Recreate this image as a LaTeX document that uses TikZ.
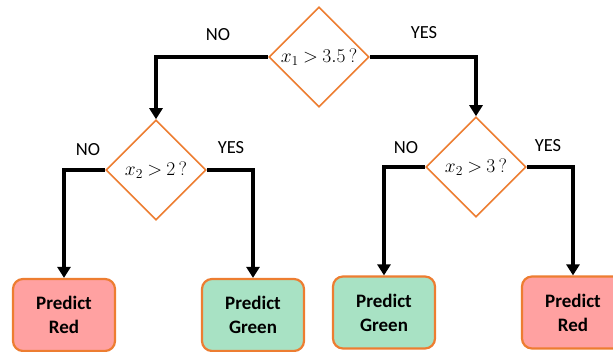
\RequirePackage{fix-cm}
\documentclass[tikz,border=0pt]{standalone}
\usepackage{fontspec}
\setmainfont{Carlito}
\usetikzlibrary{shapes.geometric,arrows.meta}
\definecolor{edgeorange}{HTML}{ED7D31}
\definecolor{leafred}{HTML}{FFA1A1}
\definecolor{leafgreen}{HTML}{A8E2C4}
\thickmuskip=4mu plus 2mu
\tikzset{
  test/.style={diamond, draw=edgeorange, line width=1.6pt, fill=white,
    minimum width=100pt, minimum height=100pt, inner sep=0pt,
    font=\fontsize{19.5}{22}\selectfont},
  leaf/.style={rounded corners=10pt, draw=edgeorange, line width=2.2pt,
    minimum width=102pt, minimum height=72pt, align=center,
    font=\fontsize{19}{24}\selectfont\bfseries},
  redleaf/.style={leaf, fill=leafred},
  greenleaf/.style={leaf, fill=leafgreen},
  branch/.style={line width=4.5pt, -{Triangle[width=13pt,length=11pt]}},
  lbl/.style={font=\fontsize{18.5}{22}\selectfont, inner sep=0pt}
}
\begin{document}
\begin{tikzpicture}[x=1pt,y=-1pt]
\useasboundingbox (0,0) rectangle (613,351);
% decision nodes
\node[test] (root) at (319,57) {$x_1 > 3.5\,?$};
\node[test] (left) at (156,170) {$x_2 > 2\,?$};
\node[test] (right) at (476,167) {$x_2 > 3\,?$};
% leaves
\node[redleaf] (l1) at (64,315) {Predict\\Red};
\node[greenleaf] (l2) at (253,315) {Predict\\Green};
\node[greenleaf] (l3) at (384,312.5) {Predict\\Green};
\node[redleaf] (l4) at (573,312.5) {Predict\\Red};
% branches
\draw[branch] (root.west) -| (left.north);
\draw[branch] (root.east) -| (right.north);
\draw[branch] (left.west) -| (l1.north);
\draw[branch] (left.east) -| (l2.north);
\draw[branch] (right.west) -| (l3.north);
\draw[branch] (right.east) -| (l4.north);
% branch labels
\node[lbl] (rootno) at (218,35) {NO};
\node[lbl] (rootyes) at (424,33) {YES};
\node[lbl] (leftno) at (88,150) {NO};
\node[lbl] (leftyes) at (231,148) {YES};
\node[lbl] (rightno) at (406,148) {NO};
\node[lbl] (rightyes) at (548,146) {YES};
\end{tikzpicture}
\end{document}
